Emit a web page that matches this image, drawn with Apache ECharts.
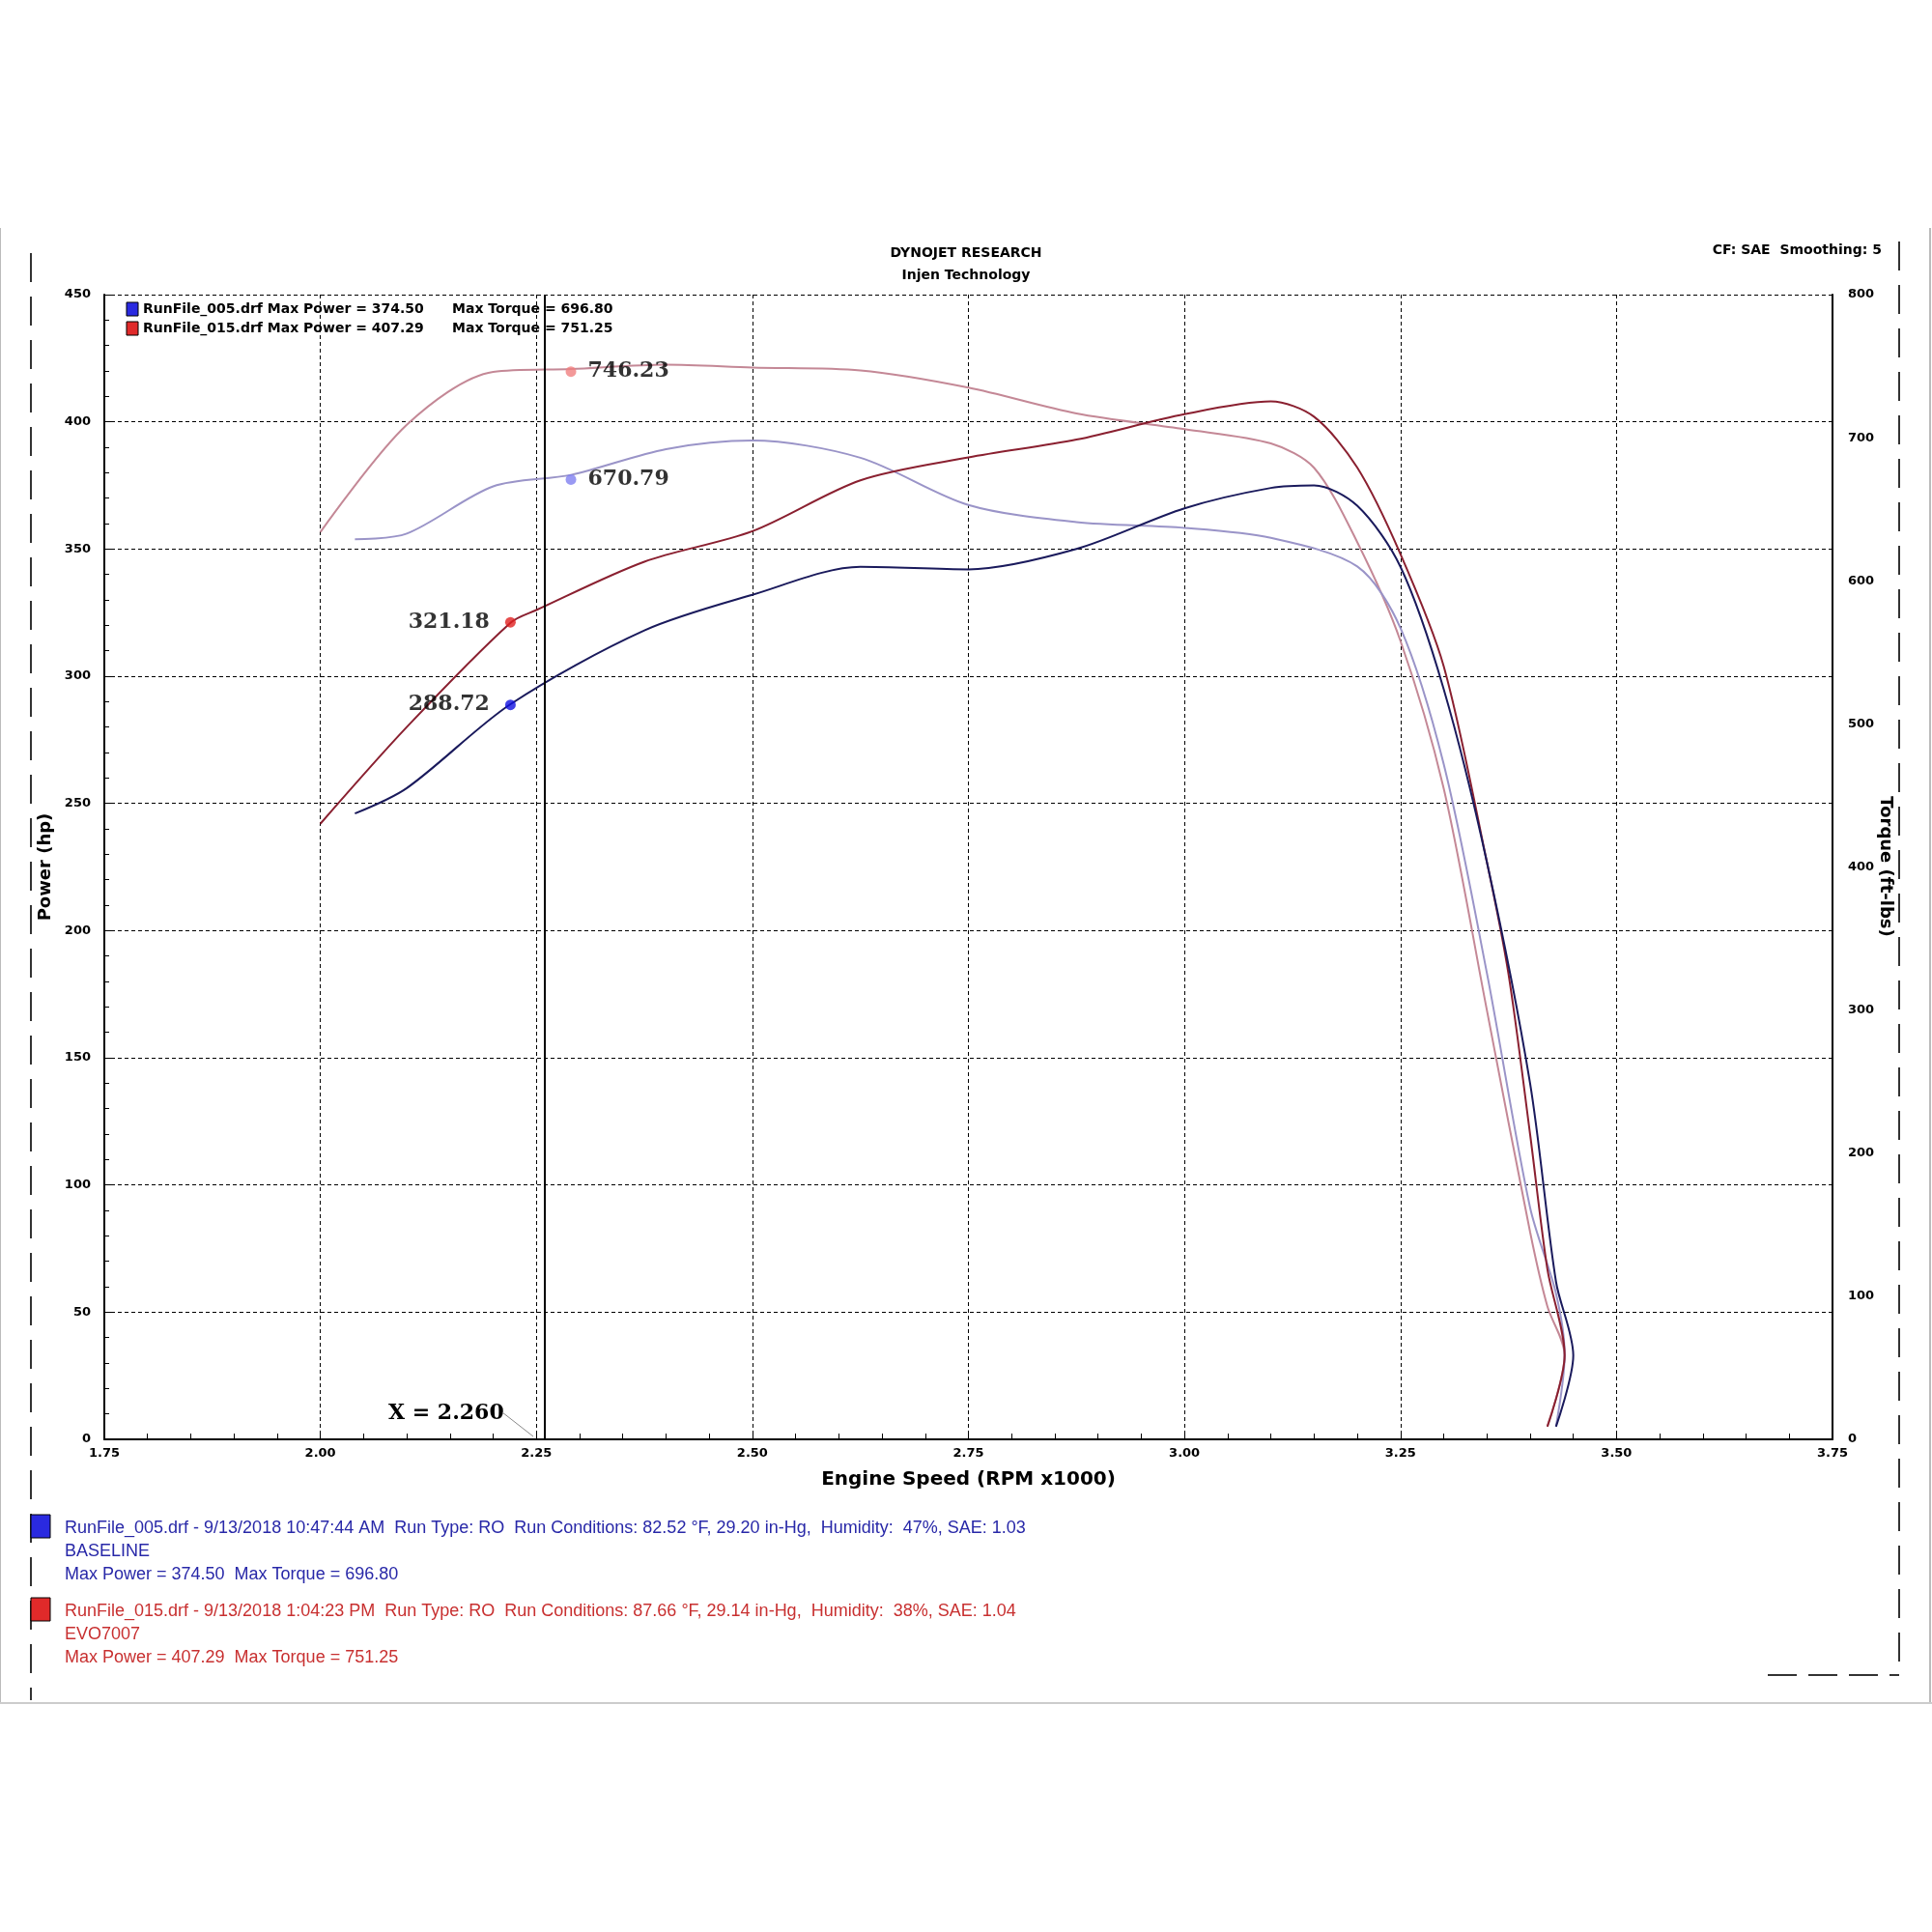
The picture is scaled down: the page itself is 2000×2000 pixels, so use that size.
<!DOCTYPE html>
<html><head><meta charset="utf-8">
<script src="https://cdn.jsdelivr.net/npm/echarts@6/dist/echarts.min.js"></script>
<style>html,body{margin:0;padding:0;background:#fff}#c{width:2000px;height:2000px}</style>
</head><body><div id="c"></div>
<script>
const xTicks = [1.75,3.75,0.25];
const redPower = [[2.00,242],[2.10,280],[2.22,321],[2.25,326],[2.375,345],[2.5,357],[2.625,377],[2.75,386],[2.875,393],[3.0,403],[3.1,408],[3.15,402],[3.2,382],[3.25,348],[3.3,304],[3.35,227],[3.375,183],[3.4,120],[3.42,67],[3.44,33],[3.42,5]];
const bluePower = [[2.04,246],[2.1,256],[2.22,289],[2.375,318],[2.5,332],[2.625,343],[2.75,342],[2.875,350],[3.0,366],[3.1,374],[3.15,375],[3.2,367],[3.25,343],[3.3,295],[3.35,227],[3.4,140],[3.43,62],[3.45,33],[3.43,5]];
const redTorque = [[2.0,634],[2.1,709],[2.2,746],[2.29,748],[2.4,751],[2.5,749],[2.625,747],[2.75,735],[2.875,717],[3.0,706],[3.1,696],[3.15,679],[3.2,627],[3.25,558],[3.3,455],[3.35,300],[3.4,145],[3.42,93],[3.44,59],[3.42,9]];
const blueTorque = [[2.04,629],[2.1,633],[2.2,666],[2.29,674],[2.4,692],[2.5,698],[2.625,686],[2.75,653],[2.875,641],[3.0,637],[3.1,630],[3.2,610],[3.25,567],[3.3,472],[3.35,326],[3.4,162],[3.43,102],[3.44,59],[3.43,9]];
const powerMarks = [[2.22,321.18,'#e02020'],[2.22,288.72,'#1010e0']];
const torqueMarks = [[2.29,746.23,'#f08080'],[2.29,670.79,'#8080f0']];
const cursorX = 2.26;
const F = 'DejaVu Sans';
const chart = echarts.init(document.getElementById('c'));
const sm = (d,c,yi,w)=>({type:'line',data:d,yAxisIndex:yi,showSymbol:false,smooth:0.3,lineStyle:{color:c,width:w||2},z:3});
chart.setOption({
 animation:false,
 grid:{left:108,right:103,top:305,bottom:510},
 xAxis:{type:'value',min:xTicks[0],max:xTicks[1],interval:xTicks[2],
  name:'Engine Speed (RPM x1000)',nameLocation:'middle',nameGap:32,nameTextStyle:{fontFamily:F,fontWeight:'bold',fontSize:20,color:'#000'},
  axisLine:{lineStyle:{color:'#000',width:2}},axisTick:{inside:true,length:8,lineStyle:{color:'#000'}},
  minorTick:{show:true,splitNumber:5,length:6,lineStyle:{color:'#000'}},
  axisLabel:{formatter:v=>v.toFixed(2),fontFamily:F,fontWeight:'bold',fontSize:13,color:'#000'},
  splitLine:{show:true,lineStyle:{color:'#000',type:[4,3],width:1}}},
 yAxis:[{type:'value',min:0,max:450,interval:50,name:'Power (hp)',nameLocation:'middle',nameGap:50,
  nameTextStyle:{fontFamily:F,fontWeight:'bold',fontSize:18,color:'#000'},
  axisLine:{show:true,lineStyle:{color:'#000',width:2}},axisTick:{show:true,inside:true,length:8,lineStyle:{color:'#000'}},
  minorTick:{show:true,splitNumber:5,length:5,lineStyle:{color:'#000'}},
  axisLabel:{fontFamily:F,fontWeight:'bold',fontSize:13,color:'#000',margin:14},
  splitLine:{show:true,lineStyle:{color:'#000',type:[4,3],width:1}}},
  {type:'value',min:0,max:800,interval:100,
  axisLine:{show:true,lineStyle:{color:'#000',width:2}},axisTick:{show:false},
  axisLabel:{fontFamily:F,fontWeight:'bold',fontSize:13,color:'#000',margin:16},splitLine:{show:false}}],
 series:[
  sm(redTorque,'#c48896',1),sm(blueTorque,'#9a94c8',1),
  sm(redPower,'#8a2030',0),sm(bluePower,'#1a1a5c',0),
  {type:'scatter',yAxisIndex:0,data:powerMarks.map(m=>({value:[m[0],m[1]],itemStyle:{color:m[2]}})),symbolSize:11,z:5,
   label:{show:true,position:'left',distance:16,formatter:p=>p.value[1].toFixed(2),fontFamily:'DejaVu Serif',fontWeight:'bold',fontSize:22,color:'#000'}},
  {type:'scatter',yAxisIndex:1,data:torqueMarks.map(m=>({value:[m[0],m[1]],itemStyle:{color:m[2]}})),symbolSize:11,z:5,
   label:{show:true,position:'right',distance:12,formatter:p=>p.value[1].toFixed(2),fontFamily:'DejaVu Serif',fontWeight:'bold',fontSize:22,color:'#000'}},
  {type:'line',data:[],markLine:{silent:true,symbol:'none',label:{show:false},lineStyle:{color:'#000',type:'solid',width:2},data:[{xAxis:cursorX}]}}
 ],
 graphic:[
  {type:'text',x:1952,y:897,rotation:-Math.PI/2,style:{text:'Torque (ft-lbs)',font:'bold 18px DejaVu Sans',fill:'#000',textAlign:'center',textVerticalAlign:'middle'}},
  {type:'text',left:'center',top:255,style:{text:'DYNOJET RESEARCH',font:'bold 14px DejaVu Sans',fill:'#000'}},
  {type:'text',left:'center',top:278,style:{text:'Injen Technology',font:'bold 14px DejaVu Sans',fill:'#000'}},
  {type:'text',right:52,top:252,style:{text:'CF: SAE  Smoothing: 5',font:'bold 14px DejaVu Sans',fill:'#000'}},
  {type:'rect',shape:{x:131,y:313,width:12,height:14},style:{fill:'#2a2ae0',stroke:'#000'}},
  {type:'rect',shape:{x:131,y:333,width:12,height:14},style:{fill:'#e02a2a',stroke:'#000'}},
  {type:'text',left:148,top:313,style:{text:'RunFile_005.drf Max Power = 374.50      Max Torque = 696.80',font:'bold 14px DejaVu Sans',fill:'#000'}},
  {type:'text',left:148,top:333,style:{text:'RunFile_015.drf Max Power = 407.29      Max Torque = 751.25',font:'bold 14px DejaVu Sans',fill:'#000'}},
  {type:'text',left:402,top:1452,style:{text:'X = 2.260',font:'bold 22px DejaVu Serif',fill:'#000'}},
  {type:'line',shape:{x1:520,y1:1462,x2:552,y2:1487},style:{stroke:'#888',lineWidth:1}},
  {type:'line',shape:{x1:32,y1:262,x2:32,y2:1760},style:{stroke:'#333',lineWidth:2,lineDash:[30,15]}},
  {type:'line',shape:{x1:1966,y1:250,x2:1966,y2:1735},style:{stroke:'#333',lineWidth:2,lineDash:[30,15]}},
  {type:'line',shape:{x1:1830,y1:1734,x2:1966,y2:1734},style:{stroke:'#333',lineWidth:2,lineDash:[30,12]}},
  {type:'line',shape:{x1:0,y1:236,x2:0,y2:1762},style:{stroke:'#bbb',lineWidth:2}},
  {type:'line',shape:{x1:1998,y1:236,x2:1998,y2:1762},style:{stroke:'#bbb',lineWidth:2}},
  {type:'line',shape:{x1:0,y1:1763,x2:2000,y2:1763},style:{stroke:'#ccc',lineWidth:2}},
  {type:'rect',shape:{x:32,y:1568,width:20,height:24},style:{fill:'#2a2ae0',stroke:'#000'}},
  {type:'rect',shape:{x:32,y:1654,width:20,height:24},style:{fill:'#e02a2a',stroke:'#000'}},
  {type:'text',left:67,top:1570,style:{text:'RunFile_005.drf - 9/13/2018 10:47:44 AM  Run Type: RO  Run Conditions: 82.52 °F, 29.20 in-Hg,  Humidity:  47%, SAE: 1.03\nBASELINE\nMax Power = 374.50  Max Torque = 696.80',font:'18px Liberation Sans',fill:'#2828a8',lineHeight:24}},
  {type:'text',left:67,top:1656,style:{text:'RunFile_015.drf - 9/13/2018 1:04:23 PM  Run Type: RO  Run Conditions: 87.66 °F, 29.14 in-Hg,  Humidity:  38%, SAE: 1.04\nEVO7007\nMax Power = 407.29  Max Torque = 751.25',font:'18px Liberation Sans',fill:'#c83030',lineHeight:24}}
 ]
});
</script></body></html>
